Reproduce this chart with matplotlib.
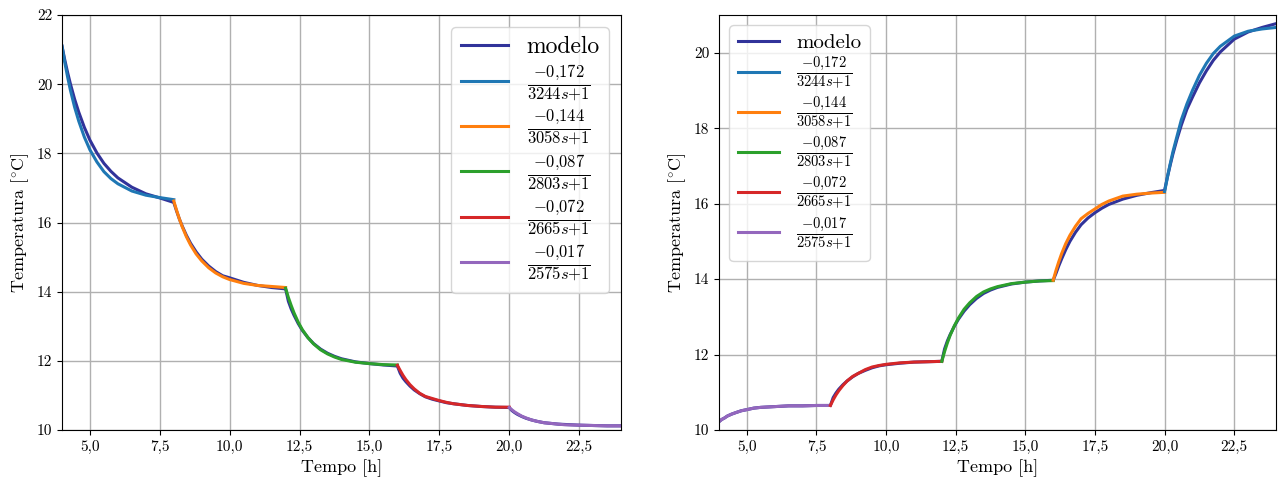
import numpy as np
import matplotlib
matplotlib.use("Agg")
import matplotlib.pyplot as plt

plt.rcParams['font.family'] = 'serif'
plt.rcParams['font.serif'] = ['cmr10']
plt.rcParams['mathtext.fontset'] = 'cm'
plt.rcParams['axes.unicode_minus'] = False
plt.rcParams['axes.formatter.use_mathtext'] = True

# tempo dentro de cada degrau [h] e inicio de cada degrau
offsets = [0, 0.1, 0.2, 0.3, 0.45, 0.6, 0.8, 1.0, 1.25, 1.5, 1.75, 2.0, 2.5, 3.0, 3.5, 4.0]
step_starts = [4, 8, 12, 16, 20]

# funcoes de transferencia (legenda)
tf_labels = ['modelo',
             r'$\frac{-0{,}172}{3244s{+}1}$',
             r'$\frac{-0{,}144}{3058s{+}1}$',
             r'$\frac{-0{,}087}{2803s{+}1}$',
             r'$\frac{-0{,}072}{2665s{+}1}$',
             r'$\frac{-0{,}017}{2575s{+}1}$']
tf_colors = ['tab:blue', 'tab:orange', 'tab:green', 'tab:red', 'tab:purple']
model_color = '#31339a'

# grafico esquerdo: degraus descendo
down_model = [
    [21.10, 20.70, 20.34, 20.01, 19.57, 19.19, 18.75, 18.38, 18.01, 17.71, 17.48, 17.29, 17.02, 16.83, 16.71, 16.58],
    [16.58, 16.33, 16.10, 15.90, 15.63, 15.40, 15.15, 14.94, 14.74, 14.58, 14.46, 14.40, 14.27, 14.18, 14.12, 14.08],
    [14.08, 13.72, 13.50, 13.32, 13.08, 12.88, 12.67, 12.50, 12.34, 12.22, 12.13, 12.06, 11.97, 11.92, 11.88, 11.85],
    [11.85, 11.64, 11.50, 11.40, 11.27, 11.16, 11.05, 10.96, 10.89, 10.84, 10.79, 10.76, 10.71, 10.68, 10.66, 10.65],
    [10.65, 10.56, 10.50, 10.45, 10.39, 10.34, 10.29, 10.25, 10.21, 10.19, 10.17, 10.16, 10.14, 10.13, 10.12, 10.12],
]
down_fit = [
    [21.10, 20.63, 20.21, 19.83, 19.34, 18.93, 18.47, 18.10, 17.75, 17.47, 17.27, 17.12, 16.91, 16.79, 16.72, 16.66],
    [16.62, 16.35, 16.10, 15.88, 15.59, 15.35, 15.09, 14.89, 14.69, 14.54, 14.43, 14.35, 14.24, 14.18, 14.15, 14.12],
    [14.10, 13.83, 13.60, 13.39, 13.12, 12.90, 12.67, 12.49, 12.32, 12.20, 12.11, 12.04, 11.96, 11.92, 11.89, 11.88],
    [11.87, 11.72, 11.58, 11.46, 11.31, 11.19, 11.06, 10.97, 10.91, 10.85, 10.80, 10.76, 10.71, 10.68, 10.66, 10.66],
    [10.65, 10.58, 10.52, 10.47, 10.40, 10.35, 10.29, 10.25, 10.21, 10.19, 10.17, 10.15, 10.14, 10.13, 10.12, 10.12],
]
down_order = [0, 1, 2, 3, 4]

# grafico direito: degraus subindo
up_model = [
    [10.22, 10.28, 10.32, 10.37, 10.42, 10.46, 10.51, 10.54, 10.58, 10.60, 10.61, 10.62, 10.64, 10.64, 10.65, 10.65],
    [10.65, 10.86, 10.98, 11.08, 11.20, 11.30, 11.41, 11.50, 11.58, 11.65, 11.70, 11.73, 11.77, 11.80, 11.81, 11.82],
    [11.82, 12.15, 12.36, 12.53, 12.75, 12.94, 13.15, 13.32, 13.49, 13.62, 13.71, 13.78, 13.87, 13.92, 13.95, 13.97],
    [13.97, 14.15, 14.35, 14.53, 14.78, 15.00, 15.24, 15.44, 15.62, 15.76, 15.88, 15.98, 16.12, 16.22, 16.29, 16.35],
    [16.35, 16.70, 17.02, 17.32, 17.72, 18.08, 18.50, 18.82, 19.20, 19.52, 19.80, 20.02, 20.36, 20.55, 20.67, 20.77],
]
up_fit = [
    [10.22, 10.28, 10.32, 10.37, 10.42, 10.46, 10.51, 10.54, 10.58, 10.60, 10.61, 10.62, 10.64, 10.64, 10.65, 10.65],
    [10.65, 10.80, 10.93, 11.04, 11.18, 11.30, 11.42, 11.50, 11.60, 11.67, 11.71, 11.74, 11.78, 11.80, 11.81, 11.82],
    [11.82, 12.08, 12.31, 12.51, 12.76, 12.97, 13.20, 13.37, 13.54, 13.66, 13.74, 13.80, 13.88, 13.92, 13.95, 13.96],
    [13.97, 14.23, 14.46, 14.67, 14.94, 15.16, 15.40, 15.60, 15.74, 15.86, 15.98, 16.07, 16.20, 16.25, 16.28, 16.30],
    [16.32, 16.70, 17.05, 17.38, 17.80, 18.22, 18.64, 19.00, 19.40, 19.72, 19.98, 20.17, 20.44, 20.57, 20.63, 20.67],
]
up_order = [4, 3, 2, 1, 0]

xticks = [5, 7.5, 10, 12.5, 15, 17.5, 20, 22.5]
xtick_labels = ['5,0', '7,5', '10,0', '12,5', '15,0', '17,5', '20,0', '22,5']

fig = plt.figure(figsize=(12.82, 4.83), dpi=100)
ax1 = fig.add_axes([62 / 1282, 53 / 483, 559 / 1282, 415 / 483])
ax2 = fig.add_axes([719 / 1282, 53 / 483, 557 / 1282, 415 / 483])


def draw(ax, model, fit, order, ylim, yticks, legend_loc, legend_size, spacing):
    # modelo como uma linha so
    tm, ym = [], []
    for start, seg in zip(step_starts, model):
        tm += [start + o for o in offsets]
        ym += seg
    ax.plot(tm, ym, color=model_color, lw=2.2, label=tf_labels[0])
    lines = {}
    for start, seg, k in zip(step_starts, fit, order):
        l, = ax.plot([start + o for o in offsets], seg, color=tf_colors[k], lw=2.2)
        lines[k] = l
    handles = [ax.lines[0]] + [lines[k] for k in range(5)]
    ax.legend(handles, tf_labels, loc=legend_loc, fontsize=legend_size,
              labelspacing=spacing)
    ax.set_xlim(4, 24)
    ax.set_ylim(*ylim)
    ax.set_xticks(xticks)
    ax.set_xticklabels(xtick_labels)
    ax.set_yticks(yticks)
    ax.set_yticklabels([str(v) for v in yticks])
    ax.tick_params(labelsize=11)
    ax.grid(True, color='#b0b0b0', lw=1)
    ax.set_xlabel('Tempo [h]', fontsize=13)
    ax.set_ylabel(r'Temperatura [$^{\circ}$C]', fontsize=13)


draw(ax1, down_model, down_fit, down_order, (10, 22), [10, 12, 14, 16, 18, 20, 22], 'upper right', 17, 0.2)
draw(ax2, up_model, up_fit, up_order, (10, 21), [10, 12, 14, 16, 18, 20], 'upper left', 15, 0.12)

fig.savefig('out.png', dpi=100)
